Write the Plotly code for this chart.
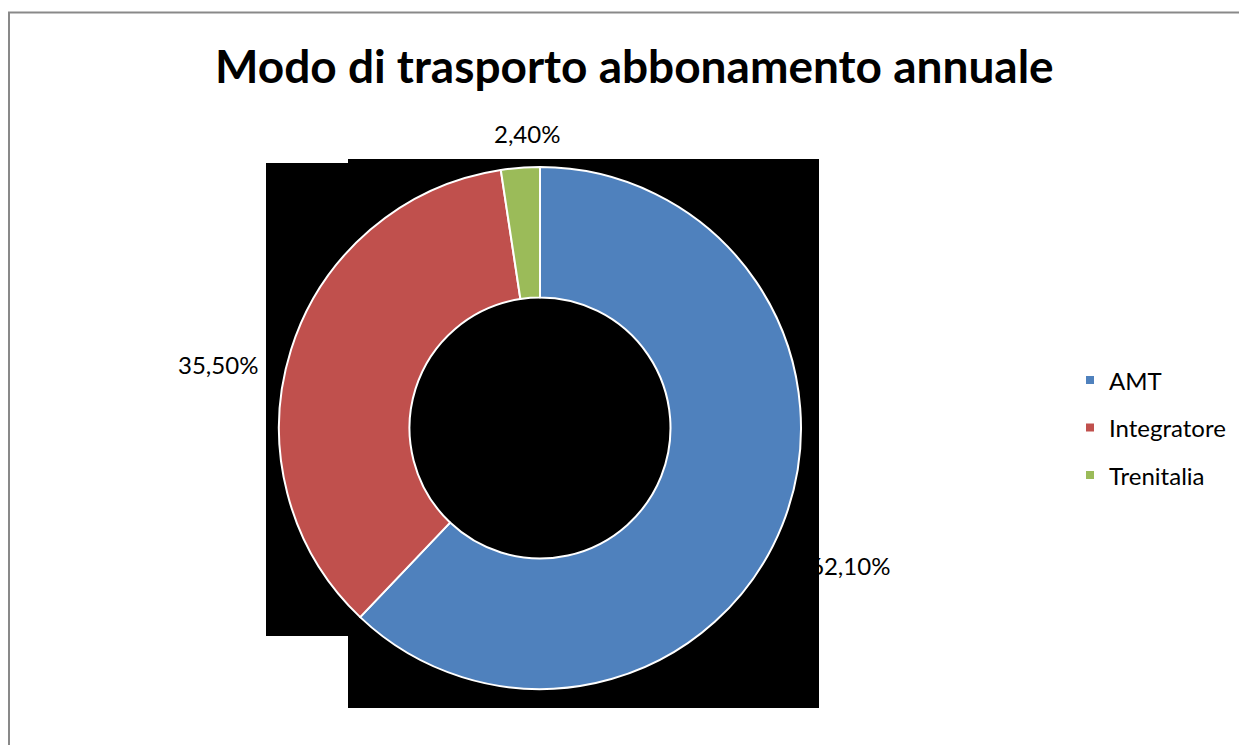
import plotly.graph_objects as go

# ---- data ----
categories = ["AMT", "Integratore", "Trenitalia"]
values = [62.1, 35.5, 2.4]
colors = ["#4F81BD", "#C0504D", "#9BBB59"]
title_text = "Modo di trasporto abbonamento annuale"

# ---- layout constants (pixels in the 1247x753 page) ----
PAGE_OFF = 8                      # browser body margin
W, H = 1247 - 2 * PAGE_OFF, 753 - 2 * PAGE_OFF
PIE_CX, PIE_CY, PIE_R = 540, 428, 261
# label anchor positions (pixel centres), as placed in the original chart
label_pos = {"AMT": (850, 565), "Integratore": (218, 364), "Trenitalia": (527, 133)}
LEG_X_BOX, LEG_X_TXT, LEG_Y0, LEG_DY = 1090, 1107, 380, 47.5
FONT = "Lato"


def px(x):
    return (x - PAGE_OFF) / W


def py(y):
    return 1 - (y - PAGE_OFF) / H


def fmt(v):
    return f"{v:.2f}".replace(".", ",") + "%"


fig = go.Figure()
fig.add_trace(go.Pie(
    labels=categories,
    values=values,
    hole=0.5,
    sort=False,
    direction="clockwise",
    rotation=0,
    marker=dict(colors=colors, line=dict(color="white", width=2)),
    textinfo="none",
    hoverinfo="label+percent",
    showlegend=False,
    domain=dict(x=[px(PIE_CX - PIE_R), px(PIE_CX + PIE_R)],
                y=[py(PIE_CY + PIE_R), py(PIE_CY - PIE_R)]),
))

shapes = [
    # chart-area frame
    dict(type="line", xref="paper", yref="paper", x0=px(8), x1=1, y0=py(12.5), y1=py(12.5),
         line=dict(color="#898989", width=2)),
    dict(type="line", xref="paper", yref="paper", x0=px(9), x1=px(9), y0=py(12), y1=0,
         line=dict(color="#898989", width=2)),
    # dark backdrop blocks behind the doughnut
    dict(type="rect", xref="paper", yref="paper", layer="below", x0=px(266), x1=px(350),
         y0=py(636), y1=py(163), fillcolor="black", line=dict(width=0)),
    dict(type="rect", xref="paper", yref="paper", layer="below", x0=px(348), x1=px(819),
         y0=py(708), y1=py(159), fillcolor="black", line=dict(width=0)),
]

annotations = [
    dict(text=f"<b>{title_text}</b>", x=px(634), y=py(66), xref="paper", yref="paper",
         xanchor="center", yanchor="middle", showarrow=False,
         font=dict(family=FONT, size=46, color="black")),
]

for cat, v in zip(categories, values):
    lx, ly = label_pos[cat]
    annotations.append(dict(text=fmt(v), x=px(lx), y=py(ly), xref="paper", yref="paper",
                            xanchor="center", yanchor="middle", showarrow=False,
                            font=dict(family=FONT, size=24, color="black")))

for i, (cat, col) in enumerate(zip(categories, colors)):
    yc = LEG_Y0 + i * LEG_DY
    shapes.append(dict(type="rect", xref="paper", yref="paper",
                       x0=px(LEG_X_BOX - 4), x1=px(LEG_X_BOX + 4),
                       y0=py(yc + 4), y1=py(yc - 4), fillcolor=col, line=dict(width=0)))
    annotations.append(dict(text=cat, x=px(LEG_X_TXT), y=py(yc), xref="paper", yref="paper",
                            xanchor="left", yanchor="middle", showarrow=False,
                            font=dict(family=FONT, size=24, color="black")))

fig.update_layout(
    width=W, height=H,
    margin=dict(l=0, r=0, t=0, b=0),
    paper_bgcolor="white",
    plot_bgcolor="white",
    shapes=shapes,
    annotations=annotations,
    font=dict(family=FONT),
)

fig.write_html("out.html")
